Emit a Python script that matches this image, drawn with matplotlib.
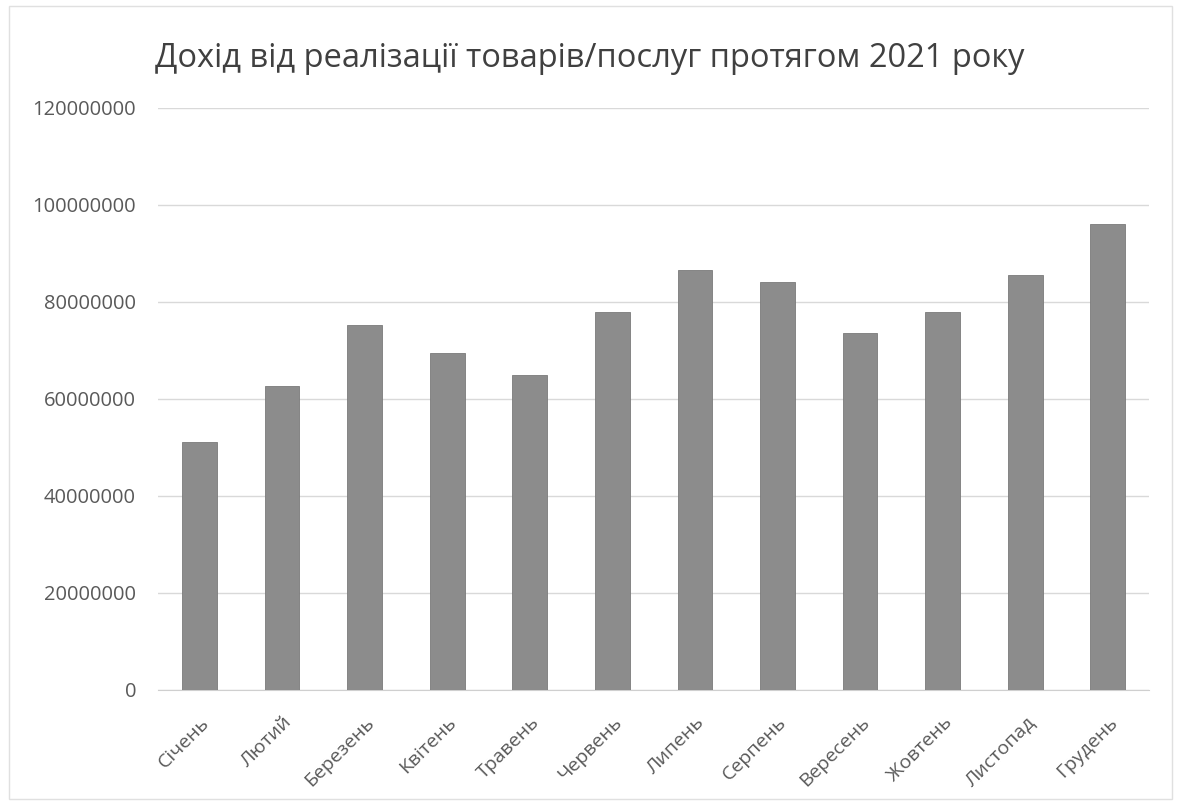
import matplotlib
matplotlib.use("Agg")
import matplotlib.pyplot as plt
from matplotlib.patches import Rectangle

months = ["Січень", "Лютий", "Березень", "Квітень", "Травень", "Червень",
          "Липень", "Серпень", "Вересень", "Жовтень", "Листопад", "Грудень"]
income = [51200000, 62600000, 75300000, 69500000, 65000000, 78000000,
          86500000, 84000000, 73500000, 78000000, 85500000, 96000000]
yticks = [0, 20000000, 40000000, 60000000, 80000000, 100000000, 120000000]
title = "Дохід від реалізації товарів/послуг протягом 2021 року"

plt.rcParams['font.family'] = ['Open Sans', 'DejaVu Sans']

fig = plt.figure(figsize=(11.81, 8.05), dpi=100)
ax = fig.add_axes([0.134, 0.143, 0.839, 0.723])

x = range(len(months))
ax.bar(x, income, width=0.42, color='#8c8c8c', edgecolor='#7a7a7a', linewidth=0.6, zorder=3)

ax.set_ylim(0, 120000000)
ax.set_xlim(-0.5, len(months) - 0.5)
ax.set_yticks(yticks)
ax.set_yticklabels([str(v) for v in yticks], fontsize=14.5, color='#595959')
ax.set_xticks(list(x))
ax.set_xticklabels(months, rotation=45, ha='right', rotation_mode='anchor',
                   fontsize=14, color='#595959')
ax.tick_params(axis='both', length=0)
ax.tick_params(axis='y', pad=16)
ax.tick_params(axis='x', pad=17)
ax.grid(axis='y', color='#d9d9d9', linewidth=1, zorder=0)
for s in ['top', 'right', 'left']:
    ax.spines[s].set_visible(False)
ax.spines['bottom'].set_color('#cfcfcf')

fig.text(0.131, 0.917, title, fontsize=23.5, color='#404040', ha='left', va='baseline')

fig.patches.append(Rectangle((0.008, 0.008), 0.984, 0.984, transform=fig.transFigure,
                             fill=False, edgecolor='#e0e0e0', linewidth=1))

fig.savefig("out.png", dpi=100, facecolor='white')
